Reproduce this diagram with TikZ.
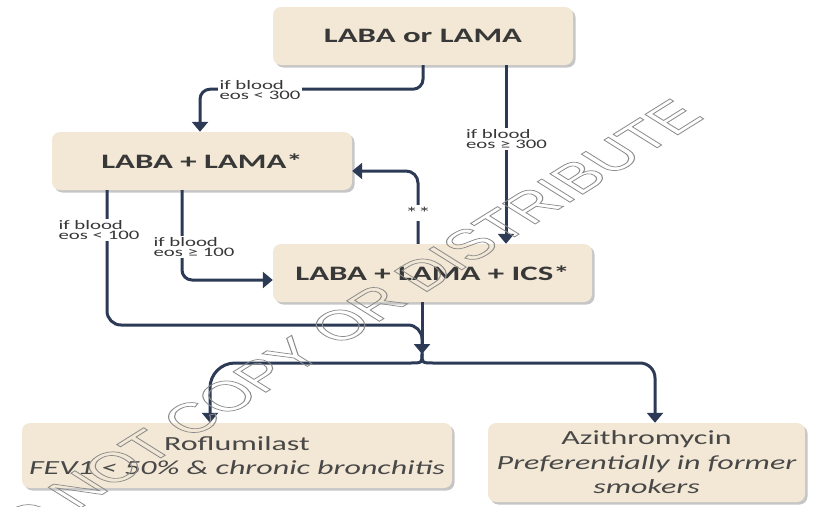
\documentclass[tikz,border=0pt]{standalone}
\usepackage{fontspec}
\setmainfont{Carlito}[FakeStretch=1.6]
\newfontfamily\wmfont{Liberation Sans}
\usetikzlibrary{arrows.meta,shadows}
\definecolor{boxfill}{RGB}{243,232,213}
\definecolor{conncol}{RGB}{45,58,85}
\definecolor{txt}{RGB}{56,56,56}
\definecolor{txtsoft}{RGB}{72,72,72}
\newcommand{\outlinetext}[1]{\special{pdf:literal direct 1 Tr 0.7 w}#1\special{pdf:literal direct 0 Tr 1 w}}
\tikzset{
  box/.style={fill=boxfill, rounded corners=8pt, inner sep=2pt,
    drop shadow={shadow xshift=2.5pt, shadow yshift=-2.5pt, opacity=0.45, fill=black!50}},
  boldlbl/.style={font=\bfseries\fontsize{20.5}{24}\selectfont, text=txt},
  softlbl/.style={font=\fontsize{20}{24.5}\selectfont, text=txtsoft, align=center},
  line/.style={draw=conncol, line width=3pt},
  arrow/.style={line, -{Triangle[width=16pt,length=10pt]}},
  lbl/.style={fill=white, inner sep=1.5pt, align=left, text=txt,
    font=\fontsize{13}{10.5}\selectfont},
}
\begin{document}
\begin{tikzpicture}[x=1pt, y=-1pt]
\useasboundingbox (0,0) rectangle (813,506);
% boxes
\node[box, boldlbl, minimum width=300pt, minimum height=58pt] (A) at (423,36) {LABA or LAMA};
\node[box, boldlbl, minimum width=300pt, minimum height=58pt] (B) at (202,161) {LABA + LAMA*};
\node[box, boldlbl, minimum width=319pt, minimum height=58pt] (C) at (432.5,273) {LABA + LAMA + ICS*};
\node[box, softlbl, minimum width=430pt, minimum height=65pt] (D) at (237,455.5)
  {Roflumilast\\\itshape FEV1 < 50\% \& chronic bronchitis};
\node[box, softlbl, minimum width=317pt, minimum height=79pt] (E) at (646.5,462.5)
  {Azithromycin\\\itshape Preferentially in former\\\itshape smokers};
% junction
\coordinate (J) at (422,354);
% A -> B
\draw[arrow, rounded corners=10pt] (A.south) -- ++(0,24) -| ([xshift=-2pt]B.north);
\node[lbl] (l300) at (260,90) {if blood\\eos < 300};
% A -> C
\draw[arrow] ([xshift=83pt]A.south) -- ([xshift=83pt]A.south |- C.north);
\node[lbl] (g300) at (506.5,139) {if blood\\eos ≥ 300};
% C -> B (**)
\draw[arrow, rounded corners=12pt] ([xshift=-14.5pt]C.north) |- ([yshift=-10pt]B.east);
\node[lbl, font=\fontsize{16}{16}\selectfont, inner sep=2pt] (ss) at (418,213) {**};
% B -> C
\draw[arrow, rounded corners=10pt] ([xshift=-20pt]B.south) |- ([yshift=-7pt]C.west);
\node[lbl] (g100) at (194,247) {if blood\\eos ≥ 100};
% B -> junction
\draw[line, rounded corners=14pt] ([xshift=-95pt]B.south) |- (J |- 0,325) -- (J);
\node[lbl] (l100) at (99,230) {if blood\\eos < 100};
% C -> junction
\draw[arrow] (C.south -| J) -- (J);
% branches
\draw[arrow] (J) .. controls (422,363) .. (410,363) [rounded corners=25pt] -- (210,363) -- ([xshift=-27pt]D.north);
\draw[arrow] (J) .. controls (422,363) .. (434,363) [rounded corners=15pt] -- (655,363) -- ([xshift=8.5pt]E.north);
% watermark
\begin{scope}[xscale=1.6]
\node[transform shape, rotate=45, text=black!45, font=\wmfont\fontsize{42}{42}\selectfont] (wm) at (208,330) {\outlinetext{DO NOT COPY OR DISTRIBUTE}};
\end{scope}
\end{tikzpicture}
\end{document}
